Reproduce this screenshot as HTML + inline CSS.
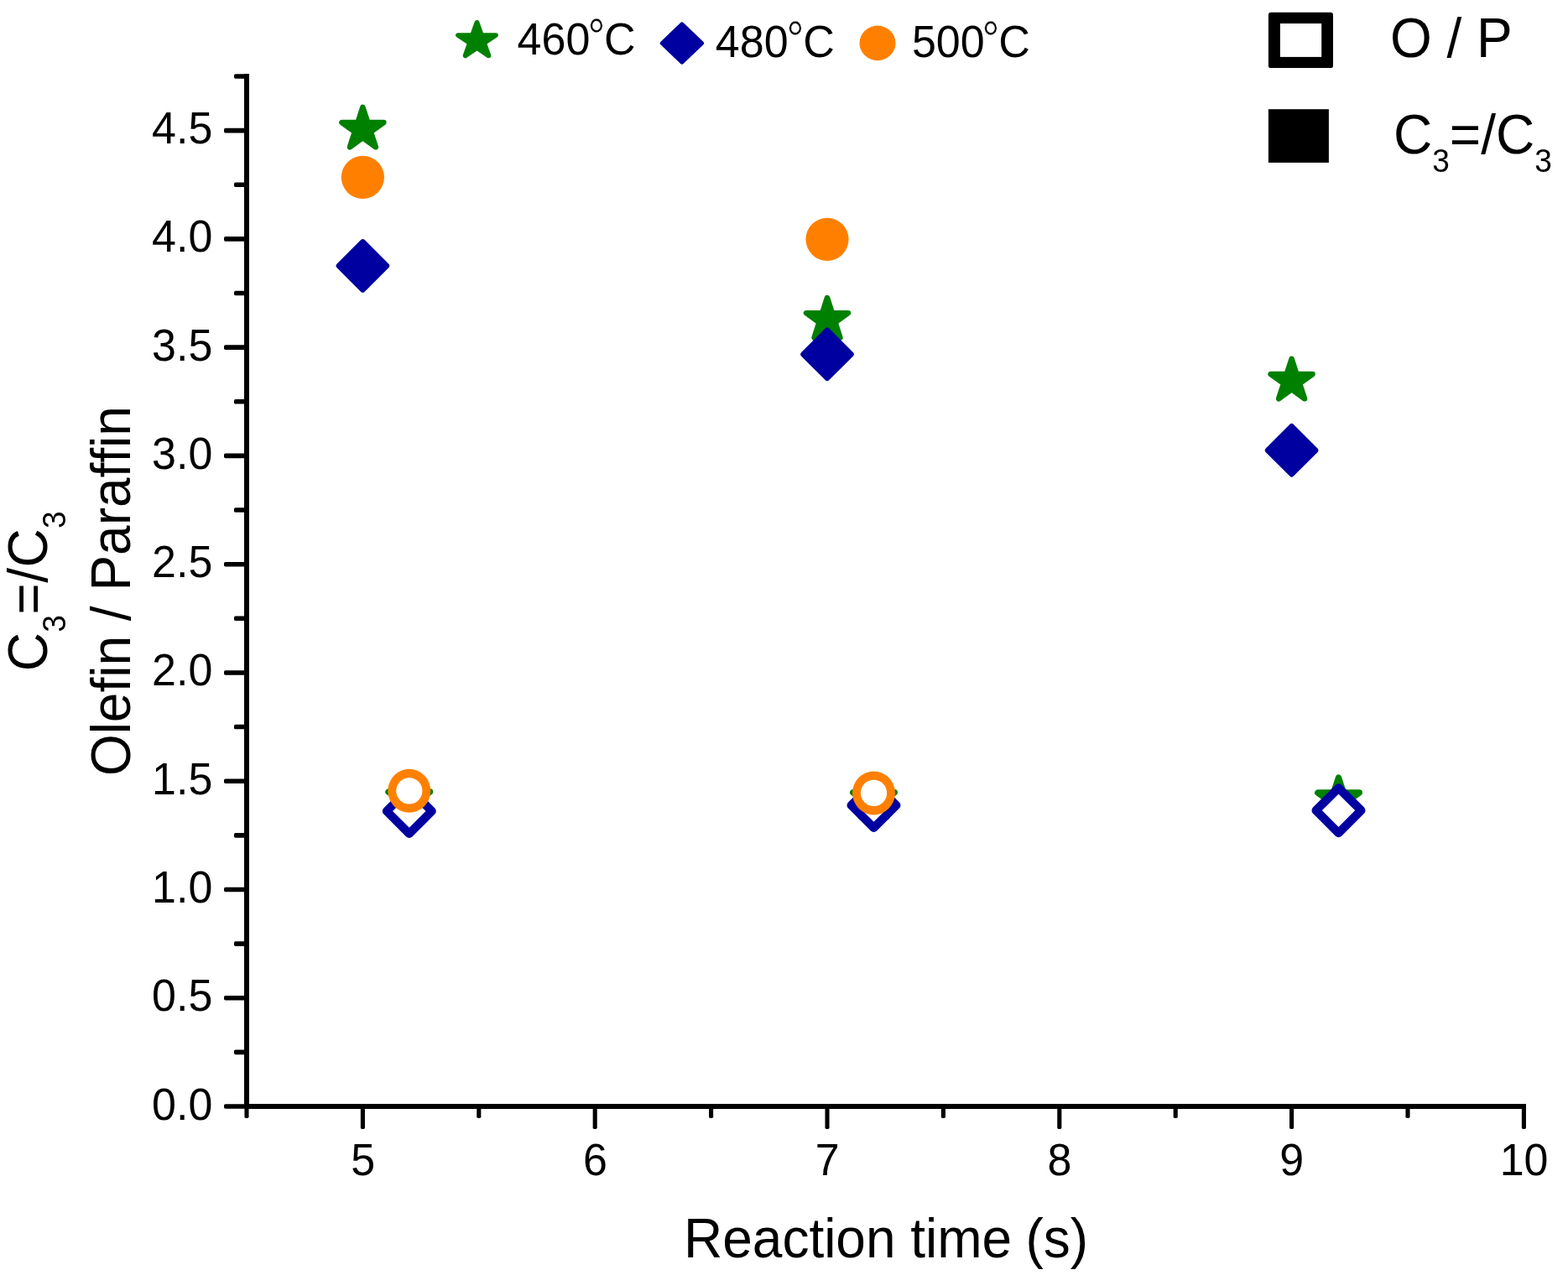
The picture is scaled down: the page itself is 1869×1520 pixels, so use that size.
<!DOCTYPE html>
<html lang="en"><head><meta charset="utf-8"><title>Olefin / Paraffin ratio vs reaction time</title>
<style>
html,body{margin:0;padding:0;background:#fff;}
body{width:1869px;height:1520px;overflow:hidden;}
svg{display:block;}
text{font-family:"Liberation Sans", sans-serif;fill:#000;font-variant-ligatures:none;font-kerning:none;}
.tick{font-size:52px;}
.ttl{font-size:64px;}
.ax{stroke:#000;fill:none;}
</style></head><body>
<svg width="1869" height="1520" viewBox="0 0 1869 1520" role="img" aria-label="Olefin / Paraffin and C3=/C3 ratio versus reaction time">
<rect x="0" y="0" width="1869" height="1520" fill="#fff"/>
<g id="axes">
<rect x="291" y="88" width="6" height="1234" fill="#000"/>
<rect x="291" y="1316" width="1528" height="6" fill="#000"/>
<g fill="#000">
<rect x="267.0" y="1316.20" width="26.0" height="5.6" rx="1.7"/>
<rect x="279.0" y="1251.57" width="14.0" height="5.6" rx="1.7"/>
<rect x="267.0" y="1186.94" width="26.0" height="5.6" rx="1.7"/>
<rect x="279.0" y="1122.30" width="14.0" height="5.6" rx="1.7"/>
<rect x="267.0" y="1057.67" width="26.0" height="5.6" rx="1.7"/>
<rect x="279.0" y="993.04" width="14.0" height="5.6" rx="1.7"/>
<rect x="267.0" y="928.41" width="26.0" height="5.6" rx="1.7"/>
<rect x="279.0" y="863.77" width="14.0" height="5.6" rx="1.7"/>
<rect x="267.0" y="799.14" width="26.0" height="5.6" rx="1.7"/>
<rect x="279.0" y="734.51" width="14.0" height="5.6" rx="1.7"/>
<rect x="267.0" y="669.88" width="26.0" height="5.6" rx="1.7"/>
<rect x="279.0" y="605.24" width="14.0" height="5.6" rx="1.7"/>
<rect x="267.0" y="540.61" width="26.0" height="5.6" rx="1.7"/>
<rect x="279.0" y="475.98" width="14.0" height="5.6" rx="1.7"/>
<rect x="267.0" y="411.35" width="26.0" height="5.6" rx="1.7"/>
<rect x="279.0" y="346.71" width="14.0" height="5.6" rx="1.7"/>
<rect x="267.0" y="282.08" width="26.0" height="5.6" rx="1.7"/>
<rect x="279.0" y="217.45" width="14.0" height="5.6" rx="1.7"/>
<rect x="267.0" y="152.82" width="26.0" height="5.6" rx="1.7"/>
<rect x="279.0" y="88.18" width="14.0" height="5.6" rx="1.7"/>
<rect x="291.45" y="1320" width="5.1" height="13.0" rx="1.7"/>
<rect x="429.85" y="1320" width="5.1" height="26.0" rx="1.7"/>
<rect x="568.25" y="1320" width="5.1" height="13.0" rx="1.7"/>
<rect x="706.65" y="1320" width="5.1" height="26.0" rx="1.7"/>
<rect x="845.05" y="1320" width="5.1" height="13.0" rx="1.7"/>
<rect x="983.45" y="1320" width="5.1" height="26.0" rx="1.7"/>
<rect x="1121.85" y="1320" width="5.1" height="13.0" rx="1.7"/>
<rect x="1260.25" y="1320" width="5.1" height="26.0" rx="1.7"/>
<rect x="1398.65" y="1320" width="5.1" height="13.0" rx="1.7"/>
<rect x="1537.05" y="1320" width="5.1" height="26.0" rx="1.7"/>
<rect x="1675.45" y="1320" width="5.1" height="13.0" rx="1.7"/>
<rect x="1813.85" y="1320" width="5.1" height="26.0" rx="1.7"/>
</g></g>
<g id="ticklabels">
<text class="tick" text-anchor="end" transform="translate(253.30 1334.50) scale(1 1.025)">0.0</text>
<text class="tick" text-anchor="end" transform="translate(253.30 1205.24) scale(1 1.025)">0.5</text>
<text class="tick" text-anchor="end" transform="translate(253.30 1075.97) scale(1 1.025)">1.0</text>
<text class="tick" text-anchor="end" transform="translate(253.30 946.71) scale(1 1.025)">1.5</text>
<text class="tick" text-anchor="end" transform="translate(253.30 817.44) scale(1 1.025)">2.0</text>
<text class="tick" text-anchor="end" transform="translate(253.30 688.18) scale(1 1.025)">2.5</text>
<text class="tick" text-anchor="end" transform="translate(253.30 558.91) scale(1 1.025)">3.0</text>
<text class="tick" text-anchor="end" transform="translate(253.30 429.65) scale(1 1.025)">3.5</text>
<text class="tick" text-anchor="end" transform="translate(253.30 300.38) scale(1 1.025)">4.0</text>
<text class="tick" text-anchor="end" transform="translate(253.30 171.12) scale(1 1.025)">4.5</text>
<text class="tick" text-anchor="middle" transform="translate(432.60 1400.60) scale(1 1.025)">5</text>
<text class="tick" text-anchor="middle" transform="translate(709.40 1400.60) scale(1 1.025)">6</text>
<text class="tick" text-anchor="middle" transform="translate(986.20 1400.60) scale(1 1.025)">7</text>
<text class="tick" text-anchor="middle" transform="translate(1263.00 1400.60) scale(1 1.025)">8</text>
<text class="tick" text-anchor="middle" transform="translate(1539.80 1400.60) scale(1 1.025)">9</text>
<text class="tick" text-anchor="middle" transform="translate(1816.60 1400.60) scale(1 1.025)">10</text>
</g>
<g id="titles">
<text class="ttl" text-anchor="middle" transform="translate(1056.00 1498.90) scale(1 1.030)">Reaction time <tspan dx="-1.6">(s)</tspan></text>
<text class="ttl" text-anchor="middle" transform="translate(154.70 704.60) rotate(-90) scale(1 1.040)">Olefin / Paraffin</text>
<text class="ttl" text-anchor="middle" transform="translate(56.30 704.60) rotate(-90) scale(1 1.040)"><tspan letter-spacing="0.45">C<tspan font-size="37" dy="21.0">3</tspan><tspan dy="-21.0">=/C</tspan><tspan font-size="37" dy="21.0">3</tspan></tspan></text>
</g>
<g id="data">
<polygon points="432.40,127.90 438.28,146.00 457.32,146.00 441.92,157.19 447.80,175.30 432.40,164.11 417.00,175.30 422.88,157.19 407.48,146.00 426.52,146.00" fill="#008000" stroke="#008000" stroke-width="6.60" stroke-linejoin="round"/>
<polygon points="986.00,355.10 991.88,373.20 1010.92,373.20 995.52,384.39 1001.40,402.50 986.00,391.31 970.60,402.50 976.48,384.39 961.08,373.20 980.12,373.20" fill="#008000" stroke="#008000" stroke-width="6.60" stroke-linejoin="round"/>
<polygon points="1539.60,427.90 1545.48,446.00 1564.52,446.00 1549.12,457.19 1555.00,475.30 1539.60,464.11 1524.20,475.30 1530.08,457.19 1514.68,446.00 1533.72,446.00" fill="#008000" stroke="#008000" stroke-width="6.60" stroke-linejoin="round"/>
<polygon points="432.40,288.45 460.85,316.90 432.40,345.35 403.95,316.90" fill="#0000a0" stroke="#0000a0" stroke-width="6.60" stroke-linejoin="round"/>
<polygon points="986.00,393.85 1014.45,422.30 986.00,450.75 957.55,422.30" fill="#0000a0" stroke="#0000a0" stroke-width="6.60" stroke-linejoin="round"/>
<polygon points="1539.60,508.35 1568.05,536.80 1539.60,565.25 1511.15,536.80" fill="#0000a0" stroke="#0000a0" stroke-width="6.60" stroke-linejoin="round"/>
<circle cx="432.40" cy="211.30" r="25.60" fill="#ff8000"/>
<circle cx="986.00" cy="285.30" r="25.60" fill="#ff8000"/>
<polygon points="487.80,925.95 493.65,943.95 512.58,943.95 497.26,955.07 503.11,973.07 487.80,961.95 472.49,973.07 478.34,955.07 463.02,943.95 481.95,943.95" fill="#008000" stroke="#008000" stroke-width="7.40" stroke-linejoin="round"/>
<polygon points="1041.50,926.75 1047.35,944.75 1066.28,944.75 1050.96,955.87 1056.81,973.87 1041.50,962.75 1026.19,973.87 1032.04,955.87 1016.72,944.75 1035.65,944.75" fill="#008000" stroke="#008000" stroke-width="7.40" stroke-linejoin="round"/>
<polygon points="1595.50,927.05 1601.35,945.05 1620.28,945.05 1604.96,956.17 1610.81,974.17 1595.50,963.05 1580.19,974.17 1586.04,956.17 1570.72,945.05 1589.65,945.05" fill="#008000" stroke="#008000" stroke-width="7.40" stroke-linejoin="round"/>
<polygon points="487.80,940.10 514.70,967.00 487.80,993.90 460.90,967.00" fill="#fff" stroke="#0000a0" stroke-width="10.20" stroke-linejoin="round"/>
<polygon points="1041.50,933.10 1068.40,960.00 1041.50,986.90 1014.60,960.00" fill="#fff" stroke="#0000a0" stroke-width="10.20" stroke-linejoin="round"/>
<polygon points="1595.50,939.30 1622.40,966.20 1595.50,993.10 1568.60,966.20" fill="#fff" stroke="#0000a0" stroke-width="10.20" stroke-linejoin="round"/>
<ellipse cx="487.80" cy="942.85" rx="25.45" ry="26.0" fill="#ff8000"/>
<circle cx="487.80" cy="942.85" r="15.6" fill="#fff"/>
<ellipse cx="1041.50" cy="945.40" rx="25.45" ry="26.0" fill="#ff8000"/>
<circle cx="1041.50" cy="945.40" r="15.6" fill="#fff"/>
</g>
<g id="legend-temp">
<g transform="translate(568.5 48.7) scale(0.9 0.838)">
<polygon points="0.00,-26.20 5.88,-8.10 24.92,-8.10 9.52,3.09 15.40,21.20 0.00,10.01 -15.40,21.20 -9.52,3.09 -24.92,-8.10 -5.88,-8.10" fill="#008000" stroke="#008000" stroke-width="6.60" stroke-linejoin="round"/>
</g>
<text class="tick" text-anchor="start" transform="translate(616.60 64.90) scale(1 1.035)">460<tspan font-size="56.8" dx="-2.93" dy="-1.0" textLength="20.9" lengthAdjust="spacingAndGlyphs" stroke="#fff" stroke-width="0.5">°</tspan><tspan dx="-1.2" dy="1.0">C</tspan></text>
<g transform="translate(812.9 51.5) scale(0.824 0.79)">
<polygon points="0.00,-28.45 28.45,0.00 0.00,28.45 -28.45,0.00" fill="#0000a0" stroke="#0000a0" stroke-width="6.60" stroke-linejoin="round"/>
</g>
<text class="tick" text-anchor="start" transform="translate(852.80 67.80) scale(1 1.035)">480<tspan font-size="56.8" dx="-2.00" dy="-1.0" textLength="20.9" lengthAdjust="spacingAndGlyphs" stroke="#fff" stroke-width="0.5">°</tspan><tspan dx="-1.2" dy="1.0">C</tspan></text>
<ellipse cx="1046" cy="51.4" rx="21.5" ry="20.8" fill="#ff8000"/>
<text class="tick" text-anchor="start" transform="translate(1086.90 67.80) scale(1 1.035)">500<tspan font-size="56.8" dx="-3.03" dy="-1.0" textLength="20.9" lengthAdjust="spacingAndGlyphs" stroke="#fff" stroke-width="0.5">°</tspan><tspan dx="-1.2" dy="1.0">C</tspan></text>
</g>
<g id="legend-type">
<rect x="1511.9" y="14.8" width="77.1" height="66.3" rx="3.2" fill="#000"/>
<rect x="1525.9" y="28" width="49.3" height="39.9" fill="#fff"/>
<rect x="1511.9" y="130.2" width="72" height="63.7" fill="#000"/>
<text class="ttl" text-anchor="start" transform="translate(1657.00 67.90) scale(1 1.040)">O / P</text>
<text class="ttl" text-anchor="start" transform="translate(1661.00 182.70) scale(1 1.040)">C<tspan font-size="37" dy="21.6">3</tspan><tspan dy="-21.6">=/C</tspan><tspan font-size="37" dy="21.6">3</tspan></text>
</g>
</svg></body></html>
